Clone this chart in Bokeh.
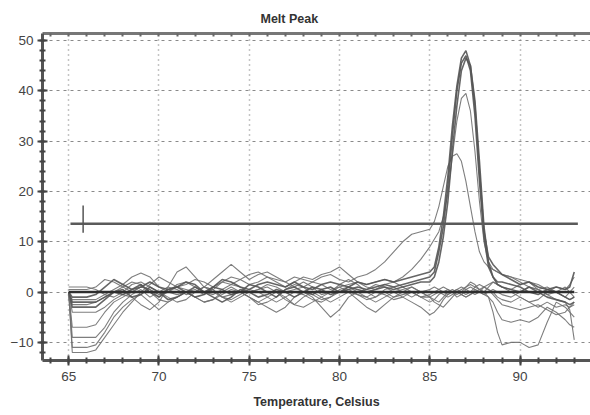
from bokeh.plotting import figure
from bokeh.models import SingleIntervalTicker, FixedTicker, LinearAxis, Title, Range1d
from bokeh.embed import file_html
from bokeh.resources import INLINE

TITLE = "Melt Peak"
X_LABEL = "Temperature, Celsius"
THRESHOLD = 13.6
THRESH_X = [65.1, 93.2]
MARK_X = 65.8
MARK_Y = [11.8, 17.2]
BASE_X = [65.0, 93.0]
BASE_Y = [0.0, 0.0]
TOP_TICKS = [64, 65, 66, 67, 68, 69, 70, 71, 72, 73, 74, 75, 76, 77, 78, 79, 80,
             81, 82, 83, 84, 85, 86, 87, 88, 89, 90, 91, 92, 93]

TEMP = ([65.0, 65.2] +
        [66.0, 66.5, 67.0, 67.5, 68.0, 68.5, 69.0, 69.5, 70.0, 70.5,
         71.0, 71.5, 72.0, 72.5, 73.0, 73.5, 74.0, 74.5, 75.0, 75.5,
         76.0, 76.5, 77.0, 77.5, 78.0, 78.5, 79.0, 79.5, 80.0, 80.5,
         81.0, 81.5, 82.0, 82.5, 83.0, 83.5, 84.0, 84.5, 85.0] +
        [85.25, 85.5, 85.75, 86.0, 86.25, 86.5, 86.75, 87.0, 87.25, 87.5,
         87.75, 88.0, 88.25, 88.5, 88.75, 89.0] +
        [89.5, 90.0, 90.5, 91.0, 91.5, 92.0, 92.5, 92.75, 93.0])

P1 = ([0, -1] +
      [-1, -0.5, 1, 2.5, 1.5, 0.5, 1, 2, 1, 0.5, 1, 2, 1.5, 0, 1, 2.5, 2, 1, 0.5, 1.5,
       2, 1.5, 1, 2, 1, 0.5, 1.5, 2, 1.5, 1, 2, 1.5, 2, 2.5, 2, 2.5, 3, 3.5, 4] +
      [5, 9, 15, 23, 33, 41, 46.5, 48, 45, 37, 24, 12, 7, 5.5, 4.5, 3.5] +
      [2.5, 1.5, 2, 1, 0.5, 1, 0.5, 1, 4])
P2 = ([0, -2] +
      [-2, -2, -1, 0, -0.5, 0.5, 1.5, 0, -1, 0.5, 1, 0, -1, -0.5, 1, 0.5, -0.5, 0, 1.5, 1,
       0, -1, 0.5, 1, 0, -0.5, 0.5, 1, 0, 0.5, 1, 0.5, 1, 1.5, 1, 1.5, 2, 2.5, 3] +
      [4, 8, 13, 21, 31, 40, 45.5, 47, 44, 35, 22, 11, 5, 3, 2, 2] +
      [1.5, 1, 0, -0.5, 0.5, 0, -1, -1.5, -1])
P3 = ([0, -3] +
      [-3, -3, -1.5, 0, 0.5, -1, -0.5, 1, 0, -1.5, -1, 0, 1, 0, -1, -2, -1, 0.5, 0, -1,
       -0.5, 0.5, 0, -1, 0, 1, 0.5, -0.5, 0, 1, 0.5, 0, 0.5, 1, 0.5, 1, 1.5, 2, 2] +
      [3, 6, 11, 18, 28, 37, 44, 46.5, 45, 38, 26, 13, 6, 3, 1.5, 1] +
      [0.5, 0, 1, 0, -1, -1.5, -2, -2.5, -2])
P4 = ([0, -7] +
      [-7, -6.5, -4, -2, -1, 0, 1, 0.5, -1, 0, 1.5, 2, 1, 0, -0.5, 0.5, 1.5, 1, 0, 0.5,
       1.5, 1, 0, 0.5, 1, 2, 1.5, 0.5, 1, 1.5, 2, 1.5, 2, 2.5, 2, 3, 4.5, 6.5, 9] +
      [10.5, 12, 15, 19.5, 27, 34, 38.5, 39.5, 36, 28, 18, 10, 6, 4.5, 4, 3.5] +
      [3, 2, 1, 0.5, 1, 0, -1, 0, 1])
P5 = ([0, -12] +
      [-12, -11.5, -9, -6.5, -4, -2, 0, 1.5, 3, 2, 1, 1.5, 2.5, 2, 1, 2, 3, 2.5, 1.5, 2,
       3, 2.5, 2, 3, 2.5, 2, 3, 3.5, 2.5, 2, 3, 3.5, 4.5, 6, 8, 10, 11.5, 12, 12.5] +
      [14, 17, 21, 25, 27, 27.5, 26, 22, 17, 12, 8, 6, 5, 4.5, 4, 3.5] +
      [3, 2.5, 2, 1.5, 0.5, 0, -1, -1.5, -1])
N1 = ([0, -11] +
      [-11, -10.5, -8, -5, -3, -1.5, -0.5, -2, -3.5, -2, -1, 0, -1, -2, -1.5, 0, 1, 0, -1, -2,
       -1, 0, -1.5, -2.5, -1, 0, -1, -2, -1, 0, -0.5, -1.5, -1, 0, -1, -0.5, 0, -1, -0.5] +
      [0, 0.5, 1, 0.5, 0, -0.5, 0, 1, 2, 1.5, 0.5, 0, -1, -4, -8, -10.5] +
      [-10, -10, -11, -10.5, -6, -2, -3, -4, -5])
N2 = ([0, -9] +
      [-9, -9, -7, -4, -2, -0.5, 0.5, -1, 0, 1, 0.5, -0.5, 0, 1, 0.5, -1, -1.5, -0.5, 0.5, 0,
       -1, -2, -1, 0, -0.5, -1.5, -2, -1, 0, 0.5, -0.5, -1, 0, -0.5, -1.5, -1, 0, -1, -2] +
      [-1.5, -0.5, 0, 0.5, 0, -1, -0.5, 0.5, 1, 0.5, 0, -0.5, -1, -2, -4, -5.5] +
      [-6, -5.5, -6, -5, -3, -4, -5.5, -6.5, -7])
N3 = ([0, -4] +
      [-4, -4, -3, -1.5, -0.5, -1, -2.5, -3.5, -2, 1, 4, 5, 3, 1, 0, -1, -0.5, 0, -1, -2,
       -3, -4, -3, -1, 0, -1, -3, -5, -3.5, -1, 0, -1, -2, -1, 0, -1, -2, -3, -4.5] +
      [-4, -3, -1.5, -0.5, 0, 0.5, 0, -0.5, 0, 1, 1.5, 1, 0.5, 0, -1, -1.5] +
      [-2, -1, -2, -3, -2, -3, -2.5, -3, -2.5])
N4 = ([0.5, 0.5] +
      [0.5, 1, 2.5, 2, 1, 0, 1, 0.5, -0.5, 0, 1, 0.5, 0, 1, 2.5, 4, 5.5, 4, 2.5, 3.5,
       4, 3, 2, 1, 2, 1, -0.5, 0, 1.5, 2.5, 1.5, 0, -1, 0.5, 1, 0, -1, 0, 0.5] +
      [1, 0.5, 0, -0.5, 0, 0.5, 1, 0.5, 0, -0.5, 0, 1, 1.5, 2, 1.5, 1] +
      [0, -1, -2, -1.5, 0, 1, 0.5, 1.5, 3])
N5 = ([0, -1.5] +
      [-1.5, -1.5, -0.5, 0.5, 1.5, 3, 3.8, 3, 1, 0, -0.5, 0, 0.5, -0.5, 0.5, 2, 1.5, 2.5, 3.5, 4,
       3, 2, 1, 2, 3, 2.5, 3.5, 4, 5, 3.5, 2, 1, 0.5, 1.5, 2, 1, 0, -1, -1] +
      [-0.5, 0, -0.5, -1, -0.5, 0, -0.5, -1, -0.5, 0.5, 0, -0.5, 0, 0.5, 0, -0.5] +
      [-1, 0, 1, 0.5, -0.5, -1.5, -2, -3.5, -9.5])
N6 = ([1, 1] +
      [1, 0.5, -0.5, -1, 0, 1.5, 2, 1, 0, -1, -2, -1.5, 0, 1, 0.5, -1, -2, -1, 0, 0.5,
       1, 0, -1, -2.5, -3, -2, -1, 0, 1, 0, -1.5, -3, -4, -2.5, -1, 0, 1, 0, -1] +
      [-2, -2.5, -3, -2, -1, 0, 0.5, 1, 1.5, 1, 0.5, 0, 1, 2, 1.5, 1] +
      [0.5, 1.5, 2, 0.5, -0.5, 0, 1, 0, -1])
N7 = ([0, -2.5] +
      [-2.5, -2, -1, 0, 1, 2, 1.5, 0, -1.5, -2, -1, 0, -1, -2, -1.5, -0.5, 0.5, 0, -1, -2.5,
       -2, -1, 0.5, 1.5, 1, -0.5, -1.5, -1, 0.5, 1, 0, 0.5, 1.5, 1, 0, 0.5, 1, 0, -1] +
      [-1.5, -2, -1, 0, 0.5, 0, -0.5, -1, -0.5, 0, 0.5, 1, 0.5, -0.5, -1.5, -2.5] +
      [-3, -3.5, -3, -2.5, -3.5, -4.5, -4, -3, -2])

THIN = [N1, N2, N3, N4, N5, N6, N7, P5, P4]
THICK = [P3, P2, P1]
for c in THIN + THICK:
    assert len(c) == len(TEMP), (len(c), len(TEMP))

p = figure(width=590, height=415, output_backend="svg", toolbar_location=None,
           x_range=Range1d(63.55, 93.9), y_range=Range1d(-13.6, 51.4),
           min_border_left=42, min_border_right=0, min_border_top=33, min_border_bottom=55,
           background_fill_color="white", border_fill_color="white")
p.outline_line_color = None

p.title = Title(text=TITLE, align="left", offset=218, text_font="Liberation Sans",
                text_font_size="12.5px", text_font_style="bold", text_color="#333333",
                standoff=15)

p.xaxis.ticker = SingleIntervalTicker(interval=5, num_minor_ticks=5)
p.yaxis.ticker = SingleIntervalTicker(interval=10, num_minor_ticks=5)

for ax in (p.xaxis[0], p.yaxis[0]):
    ax.axis_line_color = "#555555"
    ax.axis_line_width = 3
    ax.major_tick_line_color = "#444444"
    ax.major_tick_line_width = 2
    ax.minor_tick_line_color = "#444444"
    ax.minor_tick_line_width = 2
    ax.major_tick_in = 5
    ax.major_tick_out = 5
    ax.minor_tick_in = 3
    ax.minor_tick_out = 3
    ax.major_label_text_font = "Liberation Sans"
    ax.major_label_text_font_size = "13.5px"
    ax.major_label_text_color = "#444444"

p.xaxis.major_label_standoff = 6
p.yaxis.major_label_standoff = 4
p.xaxis.axis_label = X_LABEL
p.xaxis.axis_label_text_font = "Liberation Sans"
p.xaxis.axis_label_text_font_size = "12.5px"
p.xaxis.axis_label_text_font_style = "bold"
p.xaxis.axis_label_text_color = "#333333"
p.xaxis.axis_label_standoff = 11

top = LinearAxis(ticker=FixedTicker(ticks=[], minor_ticks=TOP_TICKS),
                 axis_line_color="#777777", axis_line_width=3,
                 major_tick_in=0, major_tick_out=0,
                 minor_tick_in=3, minor_tick_out=0,
                 minor_tick_line_color="#666666", minor_tick_line_width=2)
p.add_layout(top, "above")

p.xgrid.grid_line_color = "#8a8a8a"
p.xgrid.grid_line_dash = "1 4"
p.xgrid.grid_line_width = 1.5
p.ygrid.grid_line_color = "#8a8a8a"
p.ygrid.grid_line_dash = "3 4"
p.ygrid.grid_line_width = 1

for c in THIN:
    p.line(TEMP, c, line_color="#707070", line_width=1.1, line_alpha=0.9)
for c in THICK:
    p.line(TEMP, c, line_color="#555555", line_width=1.6, line_alpha=0.9)

p.line(BASE_X, BASE_Y, line_color="#2e2e2e", line_width=2.5)
p.line(THRESH_X, [THRESHOLD, THRESHOLD], line_color="#5a5a5a", line_width=2.5)
p.line([MARK_X, MARK_X], MARK_Y, line_color="#555555", line_width=1.5)

open("out.html", "w").write(file_html(p, INLINE))
